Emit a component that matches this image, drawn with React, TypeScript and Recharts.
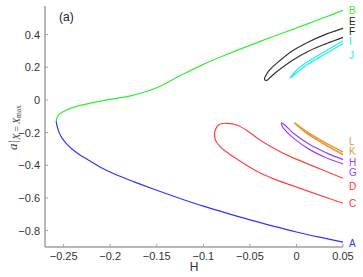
import { LineChart, Line, XAxis, YAxis, ReferenceDot } from 'recharts';

type Pt = { h: number; a: number };
const pts = (arr: number[][]): Pt[] => arr.map(([h, a]) => ({ h, a }));

// branch A (lower) and B (upper) of the outer curve
const curveA = pts([
  [-0.258, -0.13], [-0.2568, -0.165], [-0.2548, -0.2], [-0.2515, -0.235], [-0.2465, -0.27],
  [-0.24, -0.305], [-0.232, -0.338], [-0.222, -0.372], [-0.211, -0.41], [-0.196, -0.452],
  [-0.175, -0.5], [-0.15, -0.553], [-0.125, -0.603], [-0.1, -0.65], [-0.075, -0.693],
  [-0.05, -0.734], [-0.025, -0.772], [0, -0.808], [0.025, -0.84], [0.05, -0.87],
]);
const curveB = pts([
  [-0.258, -0.13], [-0.2568, -0.105], [-0.254, -0.085], [-0.2466, -0.061], [-0.235, -0.038],
  [-0.22, -0.018], [-0.2, 0.003], [-0.175, 0.03], [-0.15, 0.075], [-0.125, 0.148], [-0.1, 0.218],
  [-0.075, 0.278], [-0.05, 0.334], [-0.025, 0.388], [0, 0.44], [0.025, 0.494], [0.05, 0.548],
]);
// closed branches: upper end -> tip -> lower end
const loopEF = pts([
  [0.05, 0.438], [0.0308, 0.4], [0.0129, 0.355], [-0.005, 0.298], [-0.0229, 0.216],
  [-0.0301, 0.175], [-0.0337, 0.14], [-0.0342, 0.125], [-0.032, 0.12], [-0.029, 0.133],
  [-0.0229, 0.165], [-0.005, 0.24], [0.0129, 0.298], [0.0308, 0.342], [0.05, 0.383],
]);
const loopIJ = pts([
  [0.05, 0.362], [0.0308, 0.298], [0.0129, 0.237], [0.002, 0.192], [-0.0045, 0.152],
  [-0.0068, 0.135], [-0.0045, 0.142], [0.002, 0.175], [0.0129, 0.221], [0.0308, 0.281], [0.05, 0.345],
]);
const loopDC = pts([
  [0.05, -0.479], [0.025, -0.421], [-0.0065, -0.347], [-0.0244, -0.296], [-0.042, -0.234],
  [-0.053, -0.188], [-0.064, -0.153], [-0.0745, -0.143], [-0.0817, -0.147], [-0.0853, -0.163],
  [-0.088, -0.204], [-0.087, -0.245], [-0.0835, -0.275], [-0.078, -0.306], [-0.06, -0.377],
  [-0.042, -0.438], [-0.0244, -0.483], [-0.0065, -0.52], [0.02, -0.573], [0.05, -0.632],
]);
const loopHG = pts([
  [0.05, -0.365], [0.0323, -0.324], [0.0143, -0.273], [-0.0036, -0.202], [-0.0125, -0.153],
  [-0.0161, -0.141], [-0.0143, -0.171], [-0.0036, -0.232], [0.0143, -0.304], [0.0323, -0.355], [0.05, -0.391],
]);
const loopLK = pts([
  [0.05, -0.318], [0.0323, -0.266], [0.0143, -0.206], [0.005, -0.17], [-0.0018, -0.141],
  [0.005, -0.176], [0.0143, -0.217], [0.0323, -0.279], [0.05, -0.334],
]);

const xTicks = [-0.25, -0.2, -0.15, -0.1, -0.05, 0, 0.05];
const yTicks = [-0.8, -0.6, -0.4, -0.2, 0, 0.2, 0.4];

const endLabels = ['B', 'E', 'F', 'I', 'J', 'L', 'K', 'H', 'G', 'D', 'C', 'A'];
const endLabelY = [0.55, 0.483, 0.418, 0.355, 0.275, -0.255, -0.316, -0.384, -0.445, -0.53, -0.632, -0.876];
const endLabelColor = ['#33ee33', '#222', '#222', '#22eeee', '#22eeee', '#e89a38', '#e89a38', '#9944ee', '#9944ee', '#ff3333', '#ff3333', '#3333ff'];

const series = [
  { data: curveA, color: '#3333ff', width: 1.2 },
  { data: curveB, color: '#33ee33', width: 1.2 },
  { data: loopEF, color: '#333333', width: 1.2 },
  { data: loopIJ, color: '#22eeee', width: 1.2 },
  { data: loopDC, color: '#ff4444', width: 1.2 },
  { data: loopHG, color: '#9944ee', width: 1.2 },
  { data: loopLK, color: '#e89a38', width: 1.6 },
];

// chord-length catmull-rom, so the hairpin ends don't overshoot
const smoothCurve = (context: any) => {
  let p: number[][] = [];
  const dist = (a: number[], b: number[]) => Math.hypot(b[0] - a[0], b[1] - a[1]) || 1e-6;
  return {
    areaStart() {},
    areaEnd() {},
    lineStart() {
      p = [];
    },
    point(x: number, y: number) {
      p.push([+x, +y]);
    },
    lineEnd() {
      const n = p.length;
      if (!n) return;
      context.moveTo(p[0][0], p[0][1]);
      if (n === 1) return;
      const tan = (i: number) => {
        const a = p[Math.max(i - 1, 0)];
        const b = p[Math.min(i + 1, n - 1)];
        const l = i === 0 || i === n - 1 ? dist(a, b) : dist(a, p[i]) + dist(p[i], b);
        return [(b[0] - a[0]) / l, (b[1] - a[1]) / l];
      };
      for (let i = 0; i < n - 1; i++) {
        const l = dist(p[i], p[i + 1]) / 3;
        const t0 = tan(i);
        const t1 = tan(i + 1);
        context.bezierCurveTo(
          p[i][0] + t0[0] * l, p[i][1] + t0[1] * l,
          p[i + 1][0] - t1[0] * l, p[i + 1][1] - t1[1] * l,
          p[i + 1][0], p[i + 1][1],
        );
      }
    },
  };
};

const font = "'Liberation Sans', Arial, sans-serif";
const axisGray = '#a0a0a0';
const fmt = (v: number) => String(v).replace('-', '\u2212');

const XTick = ({ x, y, payload }: any) => (
  <g>
    <line x1={x} y1={y} x2={x} y2={y - 3} stroke={axisGray} />
    <text x={x} y={y + 12.5} textAnchor="middle" fontSize={11} fontFamily={font} fill="#333">
      {fmt(payload.value)}
    </text>
  </g>
);

const YTick = ({ x, y, payload }: any) => (
  <g>
    <line x1={x} y1={y} x2={x + 3} y2={y} stroke={axisGray} />
    <text x={x - 5} y={y} dy="0.36em" textAnchor="end" fontSize={11} fontFamily={font} fill="#333">
      {fmt(payload.value)}
    </text>
  </g>
);

export default function App() {
  return (
    <div style={{ position: 'absolute', left: 0, top: 0, width: 363, height: 277, background: '#fff' }}>
      <LineChart width={363} height={277} margin={{ top: 6, right: 20, bottom: 0, left: 0 }}>
        <XAxis
          type="number"
          dataKey="h"
          domain={[-0.27, 0.05]}
          ticks={xTicks}
          height={30}
          stroke={axisGray}
          strokeWidth={1.5}
          tickLine={false}
          tickSize={0}
          tickMargin={0}
          tick={<XTick />}
          label={{ value: 'H', position: 'insideBottom', offset: 6, fontSize: 12, fontFamily: font, fill: '#333' }}
        />
        <YAxis
          type="number"
          dataKey="a"
          domain={[-0.9, 0.575]}
          ticks={yTicks}
          width={45}
          stroke={axisGray}
          strokeWidth={1.5}
          tickLine={false}
          tickSize={0}
          tickMargin={0}
          tick={<YTick />}
        />
        {series.map((s, i) => (
          <Line
            key={i}
            data={s.data}
            dataKey="a"
            type={smoothCurve as any}
            stroke={s.color}
            strokeWidth={s.width}
            dot={false}
            activeDot={false}
            isAnimationActive={false}
          />
        ))}
        {endLabels.map((name, i) => (
          <ReferenceDot
            key={name}
            x={0.05}
            y={endLabelY[i]}
            r={0}
            ifOverflow="visible"
            label={{ value: name, position: 'right', offset: 6, fontSize: 10, fontFamily: font, fill: endLabelColor[i] }}
          />
        ))}
      </LineChart>
      <svg width={363} height={277} style={{ position: 'absolute', left: 0, top: 0, pointerEvents: 'none' }}>
        <text x={59} y={20.5} fontSize={12} fontFamily={font} fill="#222">(a)</text>
        <g transform="translate(16.5,127.5) rotate(-90)">
          <text x={0} y={0} textAnchor="middle" fontFamily="'Liberation Serif', 'DejaVu Serif', serif" fill="#444">
            <tspan fontSize={13} fontStyle="italic">a</tspan>
            <tspan fontSize={13} dx={1}>|</tspan>
            <tspan fontSize={10} fontStyle="italic" dy={3}>X</tspan>
            <tspan fontSize={10} dx={2}>=</tspan>
            <tspan fontSize={10} fontStyle="italic" dx={2}>X</tspan>
            <tspan fontSize={7.5} dy={1.5}>max</tspan>
          </text>
        </g>
      </svg>
    </div>
  );
}
